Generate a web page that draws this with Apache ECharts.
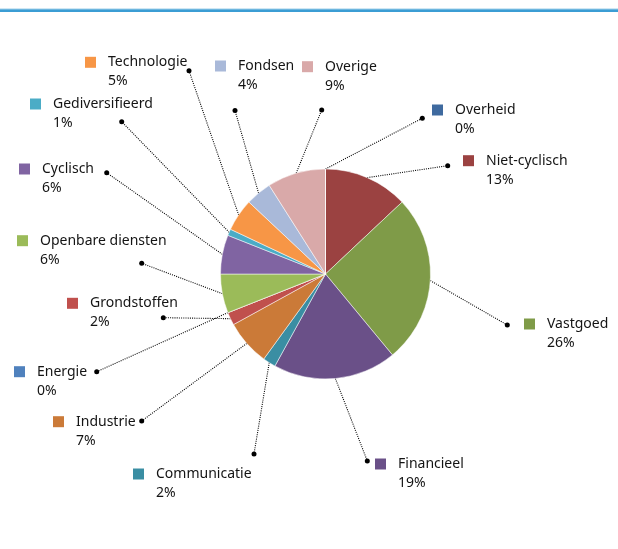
<!DOCTYPE html>
<html>
<head>
    <meta charset="utf-8" />
    <title>Sectorverdeling</title>
    <script src="https://cdn.jsdelivr.net/npm/echarts@6/dist/echarts.min.js"></script>
    <style>
        html, body { margin: 0; padding: 0; background: #fff; }
        #chart { width: 618px; height: 549px; }
    </style>
</head>
<body>
<div id="chart"></div>
<script type="text/javascript">
  // sectoren, met de klok mee vanaf boven
  var sectors = ['Niet-cyclisch', 'Vastgoed', 'Financieel', 'Communicatie', 'Industrie', 'Grondstoffen',
    'Energie', 'Openbare diensten', 'Cyclisch', 'Gediversifieerd', 'Technologie', 'Fondsen', 'Overige', 'Overheid'];
  var weights = [13, 26, 19, 2, 7, 2, 0, 6, 6, 1, 5, 4, 9, 0];

  var sectorColors = ['#9b4241', '#7f9b48', '#6a5088', '#3a8ea3', '#cb7a38', '#c0504d',
    '#4f81bd', '#9bbb59', '#8064a2', '#4bacc6', '#f79646', '#a9b9d9', '#d9a9a9', '#3f6a9f'];

  // plek van elk label: [x vierkantje, midden eerste regel, x stip, y stip]
  var labelSpots = [
    [463, 160.7, 447.7, 165.7],
    [524, 324, 507.3, 325],
    [375, 464, 367.3, 461],
    [133, 474, 254, 454],
    [53, 421.7, 141.7, 421],
    [67, 303.3, 163.3, 317.7],
    [14, 371.7, 96.7, 371.7],
    [17, 240.7, 141.7, 263.3],
    [19, 169, 106.7, 172.7],
    [30, 104, 121.7, 121.7],
    [85, 62.3, 189, 70.7],
    [215, 66, 235, 110.5],
    [302, 66.7, 321.7, 110],
    [432, 110, 422.3, 118.3]
  ];

  var rich = {
    g: { width: 12, height: 19, lineHeight: 19 },
    s: { width: 23, height: 19, lineHeight: 19 },
    n: { fontFamily: 'Noto Sans', fontSize: 14, color: '#141414', lineHeight: 19 }
  };
  sectorColors.forEach(function (c, i) {
    rich['c' + i] = { width: 11, height: 11, backgroundColor: c, verticalAlign: 'middle' };
  });

  var pieData = sectors.map(function (name, i) {
    return { name: name, value: weights[i], itemStyle: { color: sectorColors[i] } };
  });

  var dots = labelSpots.map(function (s) {
    return {
      type: 'circle',
      shape: { cx: s[2], cy: s[3], r: 2.5 },
      style: { fill: '#000' },
      z: 100
    };
  });

  var chart = echarts.init(document.getElementById('chart'), null, { renderer: 'canvas' });

  var option = {
    animation: false,
    backgroundColor: '#fff',
    graphic: [
      { type: 'rect', shape: { x: 0, y: 9, width: 618, height: 3 }, style: { fill: '#3b9dd4' } },
      { type: 'rect', shape: { x: 0, y: 8.5, width: 618, height: 1 }, style: { fill: '#9fcfea' } }
    ].concat(dots),
    series: [
      {
        type: 'pie',
        center: [325.5, 274],
        radius: 105,
        startAngle: 90,
        clockwise: true,
        avoidLabelOverlap: false,
        silent: true,
        itemStyle: { borderColor: '#ffffff', borderWidth: 0.5 },
        label: {
          show: true,
          position: 'outside',
          formatter: function (p) {
            return '{c' + p.dataIndex + '|}{g|}{n|' + p.name + '}\n{s|}{n|' + Math.round(p.percent) + '%}';
          },
          rich: rich
        },
        labelLine: {
          show: true,
          length: 10,
          length2: 10,
          smooth: false,
          lineStyle: { color: '#000', width: 1.1, type: [1, 1.2] }
        },
        labelLayout: function (params) {
          var s = labelSpots[params.dataIndex];
          var p0 = params.labelLinePoints[0];
          return {
            x: s[0],
            y: s[1] - 9.5,
            align: 'left',
            verticalAlign: 'top',
            labelLinePoints: [p0, [(p0[0] + s[2]) / 2, (p0[1] + s[3]) / 2], [s[2], s[3]]]
          };
        },
        data: pieData
      }
    ]
  };

  chart.setOption(option);
</script>
</body>
</html>
